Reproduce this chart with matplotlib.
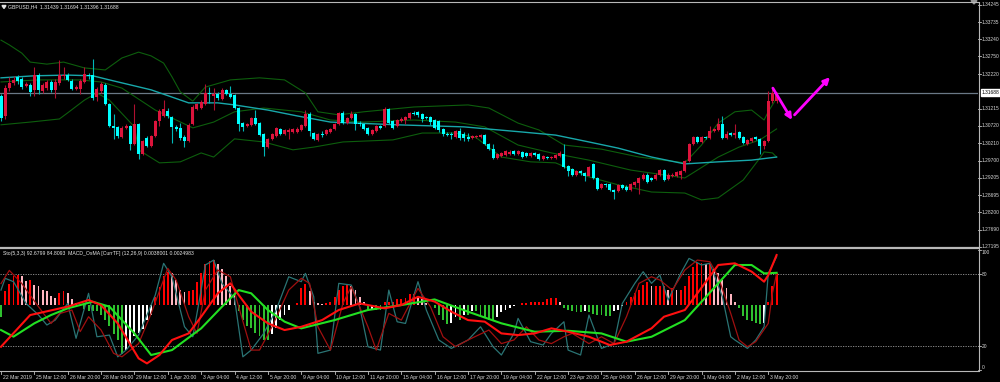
import matplotlib
matplotlib.use("Agg")
import matplotlib.pyplot as plt
from matplotlib.transforms import blended_transform_factory
from matplotlib.lines import Line2D
from matplotlib.patches import Polygon

# ---------------- data ----------------
opens = [1.3160,1.3101,1.3183,1.3198,1.3213,1.3210,1.3189,1.3192,1.3177,1.3221,
 1.3174,1.3183,1.3201,1.3177,1.3198,1.3216,1.3221,1.3204,1.3180,1.3180,
 1.3201,1.3221,1.3219,1.3157,1.3174,1.3192,1.3136,1.3072,1.3069,1.3039,
 1.3066,1.3072,1.3019,1.3077,1.2989,1.3036,1.3013,1.3042,1.3086,1.3101,
 1.3116,1.3098,1.3069,1.3066,1.3039,1.3027,1.3077,1.3122,1.3124,1.3136,
 1.3169,1.3160,1.3166,1.3151,1.3177,1.3166,1.3163,1.3124,1.3080,1.3072,
 1.3074,1.3095,1.3080,1.3048,1.3010,1.3033,1.3042,1.3063,1.3048,1.3054,
 1.3054,1.3054,1.3060,1.3072,1.3107,1.3051,1.3030,1.3048,1.3048,1.3054,
 1.3063,1.3077,1.3110,1.3080,1.3095,1.3107,1.3080,1.3077,1.3066,1.3048,
 1.3057,1.3072,1.3072,1.3122,1.3086,1.3072,1.3086,1.3089,1.3095,1.3110,
 1.3113,1.3107,1.3098,1.3098,1.3089,1.3086,1.3063,1.3048,1.3048,1.3039,
 1.3057,1.3048,1.3039,1.3036,1.3039,1.3039,1.3045,1.3019,1.3004,1.2977,
 1.2983,1.2986,1.2989,1.2998,1.2989,1.2995,1.2992,1.2983,1.2992,1.2989,
 1.2975,1.2980,1.2977,1.2977,1.2983,1.2989,1.2954,1.2945,1.2930,1.2939,
 1.2933,1.2927,1.2960,1.2919,1.2892,1.2901,1.2901,1.2886,1.2883,1.2898,
 1.2895,1.2886,1.2898,1.2904,1.2916,1.2930,1.2919,1.2916,1.2930,1.2942,
 1.2916,1.2925,1.2925,1.2930,1.2939,1.2969,1.3019,1.3039,1.3025,1.3039,
 1.3036,1.3057,1.3060,1.3077,1.3036,1.3051,1.3045,1.3054,1.3039,1.3019,
 1.3027,1.3039,1.3033,1.3013,1.3027,1.3145,1.31439]
highs = [1.3166,1.3192,1.3213,1.3216,1.3219,1.3213,1.3201,1.3198,1.3245,1.3227,
 1.3198,1.3207,1.3207,1.3210,1.3263,1.3245,1.3227,1.3210,1.3192,1.3210,
 1.3245,1.3227,1.3268,1.3186,1.3201,1.3198,1.3139,1.3107,1.3072,1.3072,
 1.3077,1.3074,1.3136,1.3080,1.3030,1.3042,1.3045,1.3089,1.3122,1.3148,
 1.3124,1.3101,1.3074,1.3080,1.3045,1.3080,1.3133,1.3139,1.3148,1.3195,
 1.3186,1.3183,1.3172,1.3183,1.3180,1.3189,1.3166,1.3127,1.3083,1.3080,
 1.3098,1.3119,1.3083,1.3051,1.3036,1.3051,1.3069,1.3066,1.3063,1.3066,
 1.3066,1.3069,1.3077,1.3119,1.3113,1.3054,1.3051,1.3057,1.3063,1.3066,
 1.3080,1.3113,1.3116,1.3098,1.3116,1.3110,1.3086,1.3080,1.3069,1.3063,
 1.3074,1.3074,1.3127,1.3124,1.3089,1.3092,1.3098,1.3101,1.3113,1.3116,
 1.3116,1.3110,1.3101,1.3101,1.3092,1.3089,1.3066,1.3054,1.3054,1.3060,
 1.3066,1.3054,1.3051,1.3045,1.3045,1.3048,1.3048,1.3022,1.3019,1.2992,
 1.2995,1.3001,1.3001,1.3001,1.3001,1.2998,1.2995,1.2995,1.2995,1.2992,
 1.2986,1.2983,1.2983,1.2989,1.2998,1.3019,1.2957,1.2948,1.2942,1.2942,
 1.2936,1.2954,1.2963,1.2922,1.2904,1.2904,1.2904,1.2889,1.2901,1.2901,
 1.2898,1.2904,1.2910,1.2922,1.2933,1.2933,1.2922,1.2933,1.2945,1.2945,
 1.2933,1.2933,1.2939,1.2942,1.2972,1.3022,1.3042,1.3042,1.3042,1.3042,
 1.3072,1.3066,1.3095,1.3101,1.3057,1.3054,1.3077,1.3057,1.3042,1.3033,
 1.3039,1.3042,1.3036,1.3030,1.3174,1.3180,1.31694]
lows = [1.3086,1.3092,1.3174,1.3192,1.3195,1.3180,1.3186,1.3160,1.3160,1.3166,
 1.3169,1.3177,1.3172,1.3154,1.3192,1.3210,1.3204,1.3177,1.3177,1.3166,
 1.3198,1.3210,1.3148,1.3145,1.3169,1.3133,1.3069,1.3033,1.3036,1.3036,
 1.3063,1.3001,1.3016,1.2975,1.2986,1.3010,1.3010,1.3039,1.3072,1.3098,
 1.3095,1.3022,1.3057,1.3030,1.3010,1.3025,1.3074,1.3119,1.3122,1.3133,
 1.3139,1.3119,1.3148,1.3148,1.3163,1.3154,1.3122,1.3057,1.3057,1.3069,
 1.3072,1.3074,1.3042,1.2983,1.3007,1.3030,1.3039,1.3045,1.3045,1.3033,
 1.3051,1.3051,1.3057,1.3069,1.3042,1.3030,1.3027,1.3039,1.3045,1.3051,
 1.3060,1.3074,1.3077,1.3077,1.3092,1.3060,1.3072,1.3060,1.3045,1.3045,
 1.3054,1.3063,1.3069,1.3077,1.3063,1.3069,1.3083,1.3077,1.3092,1.3104,
 1.3098,1.3083,1.3092,1.3074,1.3063,1.3054,1.3042,1.3042,1.3033,1.3036,
 1.3030,1.3027,1.3027,1.3033,1.3036,1.3036,1.3016,1.3001,1.2975,1.2975,
 1.2980,1.2983,1.2986,1.2986,1.2986,1.2977,1.2980,1.2980,1.2983,1.2972,
 1.2972,1.2975,1.2975,1.2975,1.2980,1.2948,1.2925,1.2927,1.2927,1.2930,
 1.2910,1.2925,1.2916,1.2886,1.2889,1.2895,1.2883,1.2860,1.2880,1.2889,
 1.2883,1.2883,1.2895,1.2872,1.2913,1.2904,1.2910,1.2913,1.2927,1.2910,
 1.2913,1.2922,1.2922,1.2916,1.2936,1.2966,1.3016,1.3022,1.3022,1.3033,
 1.3033,1.3054,1.3057,1.3033,1.3033,1.3042,1.3036,1.3033,1.3019,1.3016,
 1.3025,1.3030,1.2989,1.3004,1.3025,1.3139,1.31396]
closes = [1.3095,1.3183,1.3198,1.3207,1.3204,1.3186,1.3195,1.3172,1.3221,1.3177,
 1.3192,1.3201,1.3177,1.3201,1.3219,1.3221,1.3207,1.3180,1.3186,1.3204,
 1.3224,1.3216,1.3154,1.3180,1.3195,1.3136,1.3072,1.3066,1.3042,1.3066,
 1.3072,1.3019,1.3077,1.2989,1.3027,1.3013,1.3042,1.3086,1.3116,1.3122,
 1.3101,1.3069,1.3063,1.3036,1.3027,1.3074,1.3127,1.3136,1.3142,1.3169,
 1.3166,1.3166,1.3154,1.3177,1.3166,1.3157,1.3124,1.3077,1.3069,1.3077,
 1.3095,1.3077,1.3045,1.3010,1.3033,1.3048,1.3066,1.3048,1.3060,1.3060,
 1.3063,1.3063,1.3074,1.3107,1.3057,1.3033,1.3048,1.3045,1.3060,1.3063,
 1.3077,1.3110,1.3080,1.3095,1.3107,1.3077,1.3077,1.3063,1.3048,1.3060,
 1.3072,1.3066,1.3122,1.3080,1.3066,1.3089,1.3092,1.3098,1.3110,1.3107,
 1.3104,1.3092,1.3095,1.3083,1.3066,1.3060,1.3048,1.3045,1.3045,1.3057,
 1.3036,1.3036,1.3033,1.3042,1.3042,1.3045,1.3019,1.3004,1.2977,1.2989,
 1.2992,1.2998,1.2995,1.2989,1.2998,1.2980,1.2983,1.2992,1.2986,1.2975,
 1.2983,1.2977,1.2980,1.2986,1.2992,1.2951,1.2939,1.2930,1.2939,1.2933,
 1.2925,1.2951,1.2919,1.2889,1.2901,1.2898,1.2886,1.2880,1.2898,1.2892,
 1.2886,1.2901,1.2907,1.2919,1.2930,1.2907,1.2913,1.2930,1.2942,1.2913,
 1.2930,1.2930,1.2936,1.2939,1.2969,1.3019,1.3039,1.3025,1.3039,1.3036,
 1.3057,1.3063,1.3077,1.3036,1.3048,1.3045,1.3051,1.3036,1.3022,1.3030,
 1.3036,1.3033,1.3013,1.3027,1.3145,1.3168,1.31688]

# Bollinger bands and slow MA: (bar index, price)
bb_upper_x = [0,2,5,7,11,15,20,25,29,33,36,39,41,43,46,49,55,62,68,73,76,81,87,99,112,117,124,129,135,144,153,164,168,172,176,180,183,184,186]
bb_upper_y = [1.3322,1.3308,1.3284,1.3258,1.3252,1.3258,1.3241,1.3235,1.3270,1.3287,1.3276,1.3255,1.3215,1.3171,1.3144,1.3185,1.3206,1.3212,1.3206,1.3168,1.3113,1.3104,1.3113,1.3127,1.3133,1.3124,1.3080,1.3060,1.3016,1.3004,1.2981,1.2964,1.3016,1.3080,1.3113,1.3118,1.3089,1.3113,1.3153]
bb_mid_x = [0,9,19,24,29,37,46,51,56,63,72,79,87,99,109,116,124,132,141,151,164,172,177,182,186]
bb_mid_y = [1.3200,1.3206,1.3206,1.3200,1.3182,1.3118,1.3066,1.3083,1.3113,1.3124,1.3113,1.3089,1.3083,1.3089,1.3083,1.3069,1.3016,1.2993,1.2972,1.2943,1.2920,1.2981,1.3010,1.3031,1.3063]
bb_lower_x = [0,7,14,16,20,23,26,32,33,38,43,48,51,56,63,70,75,82,94,101,109,114,120,127,133,141,148,156,164,168,172,178,182,183,185,186]
bb_lower_y = [1.3075,1.3083,1.3092,1.3110,1.3147,1.3168,1.3147,1.3069,1.3002,1.2964,1.2967,1.2993,1.2981,1.3034,1.3025,1.3002,1.3010,1.3025,1.3031,1.3051,1.3051,1.3037,1.2981,1.2967,1.2964,1.2923,1.2900,1.2879,1.2876,1.2856,1.2862,1.2914,1.2978,1.2996,1.2993,1.2981]
ma_x = [0,8,16,22,26,36,45,52,56,64,71,79,95,111,125,133,141,148,156,164,172,180,186]
ma_y = [1.3212,1.3218,1.3220,1.3218,1.3206,1.3177,1.3139,1.3139,1.3133,1.3118,1.3101,1.3083,1.3075,1.3069,1.3054,1.3045,1.3025,1.3007,1.2981,1.2961,1.2967,1.2972,1.2981]

# Sub window: Stochastic (main/signal), MACD lines, OsMA histogram (0..100 scale)
sto_main_x = [0,1,3,6,9,11,13,16,18,21,23,26,28,30,33,37,39,41,44,46,48,49,51,53,56,58,60,63,66,69,72,73,75,76,79,81,84,86,88,91,93,95,97,100,102,105,108,112,115,118,120,123,124,127,130,132,135,136,139,141,144,147,149,152,154,156,158,160,163,165,168,170,173,175,176,179,181,183,184,186]
sto_main_y = [66.6,76.4,73.6,55.5,45.8,37.5,41.6,55.5,26.4,63.9,27.7,29.1,11,16.6,29.1,62.5,88.9,77.7,36.1,27.7,66.6,87.5,91.6,72.2,59.7,11,16.6,30.5,50,77.7,73.6,80.5,61,13.9,16.6,72.2,70.8,52.8,19.4,16.6,66.6,40.2,38.8,73.6,50,25,18,25,36,19.4,12.5,30.5,43,23.6,20.8,30.5,40.2,16.6,12.5,45.8,18,22,55.5,72.2,81.9,72.2,79,58.3,80.5,93,87.5,88.9,61,27.7,25,18,25,36,80.5,94.4]
sto_sig_x = [0,2,5,9,12,14,17,19,21,24,27,29,33,36,40,42,45,47,49,52,55,57,60,62,65,69,72,74,76,79,82,84,88,90,93,96,100,103,106,109,112,117,120,123,126,129,132,135,137,141,144,147,150,153,156,158,161,164,167,170,172,175,177,179,181,184,185,186]
sto_sig_y = [72,83,72,52.7,38.8,47,50,32,44.4,33.3,13.9,11,22,47,84.7,75,44.4,30.5,66.6,83.3,77.7,52.7,16.6,16.6,36,66.6,76.4,72.2,36,16.6,55.5,69.4,36,16.6,47.2,41.6,68,52.7,27.7,19.4,25,33.3,22,25,36,25,22,27.7,30.5,22,27.7,22,44.4,72.2,77.7,75,66.6,83.3,91.6,90.2,77.7,47.2,25,19.4,23.6,38.8,63.9,80.5]
macd_red_x = [0,7,16,21,24,28,33,35,38,41,45,48,52,55,57,60,64,68,72,77,81,86,92,96,100,104,108,112,116,120,124,128,132,136,141,146,150,156,159,164,167,172,176,180,183,184,186]
macd_red_y = [19.4,45.8,52.8,58.3,54,38.8,9.7,5.5,12.5,25,30.5,44.4,63.9,72.2,62.5,48.6,38.9,33.3,36,41.6,50,55.5,51.4,54.1,61,57,48.6,41.6,40.3,30.5,29.1,30.5,34.7,31.9,27.7,20.8,23.6,34.7,44.4,50,63.9,87.5,88.9,82,73.6,79,95.8]
macd_green_x = [0,3,8,12,16,22,26,32,36,41,48,53,57,60,64,68,72,80,88,96,104,112,120,128,136,144,150,156,164,172,176,180,183,186]
macd_green_y = [33.3,27.8,38.9,45.8,51.4,56.9,52.8,30.5,12.5,16.6,34.7,52.8,66.6,63.9,50,40.3,34.7,41.6,50,54.1,58.8,48.6,38.9,31.9,32.7,30.5,23.6,27.7,41.6,72.2,87.5,87.5,80.5,81]
osma = [-10,12,18,24,25,24,20,21,17,16,13,12,8,6,10,12,10,5,2,-1,-3,-5,
 -5,-5,-8,-12,-17,-24,-29,-41,-37,-34,-26,-23,-20,-12,-8,
 7,15,24,28,27,21,13,11,12,13,19,27,34,37,38,34,30,24,16,9,-5,-12,-17,-19,-23,-26,-29,-29,-24,-19,-12,-8,-4,0,2,
 14,18,12,3,2,1,2,3,7,13,16,17,16,13,7,3,-5,-4,-4,-4,3,3,3,5,5,6,9,9,6,5,2,0,-2,-8,-12,-16,-15,-10,-12,-8,-8,-5,-5,-8,-10,-12,-12,-10,-6,-4,-2,-1,0,2,2,2.5,3,3,3,5,6,6,3,-2,-4,-5,-6,-6,-5,-6,-7,-8,-8,-9,-9,-5,-4,-1,3,7,10,13,17,19,
 16,16,16,16,13,14,13,13,16,24,32,35,35,34,34,30,27,21,14,9,3,-2,-9,-12,-13,-15,-16,-15,3,16,27]
osma_base = 54

price_ticks = [1.34245,1.33735,1.33240,1.32750,1.32220,1.31215,1.30720,1.30210,1.29700,1.29205,1.28695,1.28200,1.27690,1.27195]
last_price = 1.31688
time_labels = ["22 Mar 2019","25 Mar 12:00","26 Mar 20:00","28 Mar 04:00","29 Mar 12:00","1 Apr 20:00",
 "3 Apr 04:00","4 Apr 12:00","5 Apr 20:00","9 Apr 04:00","10 Apr 12:00","11 Apr 20:00","15 Apr 04:00",
 "16 Apr 12:00","17 Apr 20:00","19 Apr 04:00","22 Apr 12:00","23 Apr 20:00","25 Apr 04:00","26 Apr 12:00",
 "29 Apr 20:00","1 May 04:00","2 May 12:00","3 May 20:00"]
label_every = 8
sub_levels = [20, 80]
title_text = "GBPUSD,H4  1.31439 1.31694 1.31396 1.31688"
sub_title = "Sto(5,3,3) 92.6799 84.8093  MACD_OsMA [CurrTF] (12,26,9) 0.0038001 0.0024983"
arrow1 = ((185.1, 1.3182), (189.7, 1.3089))
arrow2 = ((190.3, 1.3104), (198.8, 1.3214))

# ---------------- figure ----------------
W, H = 1000, 382
FONT = 'Liberation Sans'
FS = 3.7
FSP = 3.5
fig = plt.figure(figsize=(W / 100, H / 100), dpi=100, facecolor='black')

def fy(py):
    return 1 - py / H

ax = fig.add_axes([0, fy(247), 978 / W, 244 / H], facecolor='black')
axs = fig.add_axes([0, fy(371), 978 / W, 121 / H], facecolor='black')
XL = (-0.24, 234.3)
for a in (ax, axs):
    a.set_xlim(*XL)
    for s in a.spines.values():
        s.set_visible(False)
    a.set_xticks([])
    a.set_yticks([])
ax.set_ylim(1.27186, 1.34303)
axs.set_ylim(-0.83, 100)

# candles
BULL, BEAR = '#dc143c', '#00ffff'
BULL_W, BEAR_W = '#b01030', '#00b8b8'
for i, (o, h, l, c) in enumerate(zip(opens, highs, lows, closes)):
    up = c >= o
    ax.vlines(i, l, h, color=BULL_W if up else BEAR_W, lw=0.8, zorder=3)
    bot, top = min(o, c), max(o, c)
    ax.bar(i, max(top - bot, 0.00025), bottom=bot, width=0.72,
           color=BULL if up else BEAR, lw=0, zorder=4)

# bands and MA
BBC = '#0d5e0d'
ax.plot(bb_upper_x, bb_upper_y, color=BBC, lw=0.8, zorder=2)
ax.plot(bb_mid_x, bb_mid_y, color=BBC, lw=0.8, zorder=2)
ax.plot(bb_lower_x, bb_lower_y, color=BBC, lw=0.8, zorder=2)
ax.plot(ma_x, ma_y, color='#18a8aa', lw=1.0, zorder=2)
ax.axhline(last_price, color='#6a7886', lw=0.9, zorder=1)

# arrows
for (s, e) in (arrow1, arrow2):
    ax.annotate('', xy=e, xytext=s,
                arrowprops=dict(arrowstyle='-|>', color='#ff00ff', lw=2.0,
                                mutation_scale=9, shrinkA=0, shrinkB=0), zorder=6)

# price scale
tr = blended_transform_factory(ax.transAxes, ax.transData)
for v in price_ticks:
    ax.plot([1.0, 1.003], [v, v], color='#c0c0c0', lw=0.6, transform=tr, clip_on=False)
    ax.text(1.0035, v, f"{v:.5f}", transform=tr, color='#d8d8d8', fontsize=FSP,
            family=FONT, va='center', ha='left', clip_on=False)
ax.text(1.0035, last_price, f"{last_price:.5f}", transform=tr, color='black', fontsize=FSP,
        family=FONT, va='center', ha='left', clip_on=False,
        bbox=dict(facecolor='white', edgecolor='white', pad=0.5))

# sub window
colors = []
for i, hv in enumerate(osma):
    prev = osma[i - 1] if i > 0 else 0
    if hv >= 0:
        colors.append('#ff0000' if hv >= prev else '#ffb6c1')
    else:
        colors.append('#2fc02f' if hv <= prev else '#ffffff')
axs.bar(range(len(osma)), osma, bottom=osma_base, width=0.45, color=colors, lw=0, zorder=2)
for lv in sub_levels:
    axs.axhline(lv, color='#9a9a9a', lw=0.6, ls=(0, (1.5, 1.5)), zorder=1)
axs.plot(sto_main_x, sto_main_y, color='#2a7474', lw=0.9, zorder=3)
axs.plot(sto_sig_x, sto_sig_y, color='#a01010', lw=0.9, zorder=3)
axs.plot(macd_green_x, macd_green_y, color='#22e022', lw=1.5, zorder=4)
axs.plot(macd_red_x, macd_red_y, color='#ff1010', lw=1.5, zorder=4)

trs = blended_transform_factory(axs.transAxes, axs.transData)
for v, va in ((100, 'top'), (80, 'center'), (20, 'center'), (0, 'bottom')):
    axs.plot([1.0, 1.003], [v, v], color='#c0c0c0', lw=0.6, transform=trs, clip_on=False)
    axs.text(1.0035, v, str(v), transform=trs, color='#d8d8d8', fontsize=FSP,
             family=FONT, va=va, ha='left', clip_on=False)

# time axis
trx = blended_transform_factory(axs.transData, axs.transAxes)
for k, lab in enumerate(time_labels):
    b = k * label_every
    axs.plot([b, b], [0, -0.025], color='#c0c0c0', lw=0.6, transform=trx, clip_on=False)
    axs.text(b + 0.45, -0.05, lab, transform=trx, color='#d8d8d8', fontsize=FS,
             family=FONT, va='center', ha='left', clip_on=False)

# frame lines
GR = '#b8b8b8'
fig.add_artist(Line2D([0, 978 / W], [fy(2), fy(2)], color=GR, lw=0.8))
fig.add_artist(Line2D([0, 978 / W], [fy(248.3), fy(248.3)], color=GR, lw=1.6))
fig.add_artist(Line2D([0, 978 / W], [fy(371), fy(371)], color=GR, lw=0.8))
fig.add_artist(Line2D([978.5 / W, 978.5 / W], [fy(2), fy(371)], color=GR, lw=0.8))
fig.add_artist(Polygon([[971 / W, fy(0.5)], [977 / W, fy(0.5)], [974 / W, fy(4)]],
                       closed=True, color='#9a9a9a'))
fig.add_artist(Polygon([[2 / W, fy(5.5)], [6 / W, fy(5.5)], [4 / W, fy(8.5)]],
                       closed=True, color='#e0e0e0'))

fig.text(8 / W, fy(7), title_text, color='#e6e6e6', fontsize=FS, family=FONT, va='center', ha='left')
fig.text(3 / W, fy(254), sub_title, color='#e6e6e6', fontsize=FS, family=FONT, va='center', ha='left')

fig.savefig('out.png', dpi=100, facecolor='black')
